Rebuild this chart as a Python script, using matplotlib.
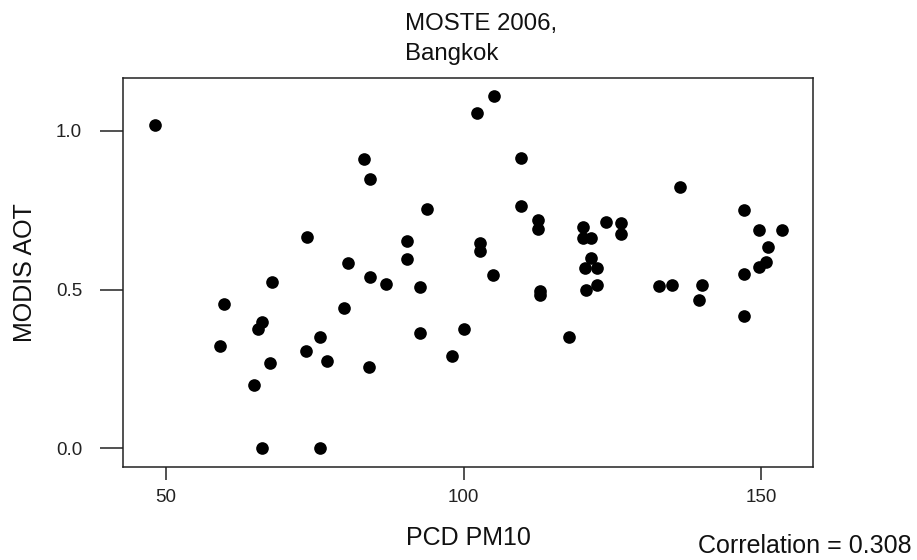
import matplotlib
matplotlib.use("Agg")
import matplotlib.pyplot as plt

pm10 = [48.1, 59.1, 59.8, 64.8, 65.4, 66.2, 66.2, 67.4, 67.8, 73.5,
        73.7, 75.8, 75.8, 77.0, 79.9, 80.6, 83.3, 84.2, 84.2, 84.1,
        87.0, 90.5, 90.5, 92.7, 92.7, 93.9, 98.0, 100.1, 102.3, 102.8,
        102.8, 104.9, 105.1, 109.7, 109.7, 112.6, 112.6, 112.9, 112.9, 117.8,
        120.1, 120.0, 121.4, 121.4, 120.5, 122.4, 120.6, 122.4, 123.9, 126.4,
        126.4, 132.9, 135.1, 136.4, 139.6, 140.1, 147.2, 147.2, 147.2, 149.7,
        149.7, 150.8, 151.2, 153.6]
aot = [1.017, 0.322, 0.456, 0.198, 0.377, 0.397, 0.0, 0.270, 0.524, 0.305,
       0.666, 0.352, 0.0, 0.276, 0.442, 0.585, 0.910, 0.849, 0.538, 0.257,
       0.517, 0.652, 0.597, 0.508, 0.362, 0.755, 0.291, 0.377, 1.055, 0.646,
       0.620, 0.546, 1.111, 0.914, 0.763, 0.718, 0.691, 0.495, 0.484, 0.352,
       0.696, 0.663, 0.661, 0.598, 0.567, 0.567, 0.498, 0.515, 0.714, 0.710,
       0.676, 0.510, 0.515, 0.824, 0.468, 0.513, 0.751, 0.549, 0.417, 0.687,
       0.570, 0.588, 0.634, 0.687]
x_ticks = [50, 100, 150]
y_ticks = [0.0, 0.5, 1.0]
y_tick_labels = ["0.0", "0.5", "1.0"]
title_lines = ["MOSTE 2006,", "Bangkok"]
correlation_text = "Correlation = 0.308"

plt.rcParams['font.family'] = ['Liberation Sans', 'DejaVu Sans']

W, H = 917, 560
fig = plt.figure(figsize=(W / 100, H / 100), dpi=100)
ax = fig.add_axes([123 / W, 1 - 466.5 / H, (813 - 123) / W, (466.5 - 78) / H])

ax.plot(pm10, aot, 'o', color='black', markersize=9.1, markeredgewidth=0)

ax.set_xlim(42.77, 158.74)
ax.set_ylim(-0.0575, 1.1665)
ax.set_xticks(x_ticks)
ax.set_xticklabels([str(v) for v in x_ticks])
ax.set_yticks(y_ticks)
ax.set_yticklabels(y_tick_labels)

for s in ax.spines.values():
    s.set_linewidth(1.1)
    s.set_color('#222222')
ax.tick_params(axis='y', length=16.5, width=1.1, pad=13, labelsize=13.5, color='#222222', labelcolor='#222222')
ax.tick_params(axis='x', length=9.1, width=1.1, pad=7, labelsize=13.5, color='#222222', labelcolor='#222222')

ax.set_xlabel("PCD PM10", fontsize=18, labelpad=14, color='#111111')
ax.set_ylabel("MODIS AOT", fontsize=18, color='#111111')
ax.yaxis.set_label_coords(-(123 - 25) / (813 - 123), 0.5)
ax.xaxis.set_label_coords(0.5, -(538 - 466.5) / (466.5 - 78))
ax.xaxis.label.set_verticalalignment('center')
ax.yaxis.label.set_verticalalignment('center')

fig.text(405 / W, 1 - 30 / H, title_lines[0], fontsize=17.3, ha='left', va='baseline', color='#111111')
fig.text(405 / W, 1 - 60 / H, title_lines[1], fontsize=17.3, ha='left', va='baseline', color='#111111')
fig.text(912 / W, 1 - 553 / H, correlation_text, fontsize=18, ha='right', va='baseline', color='#111111')

fig.savefig("out.png", dpi=100)
